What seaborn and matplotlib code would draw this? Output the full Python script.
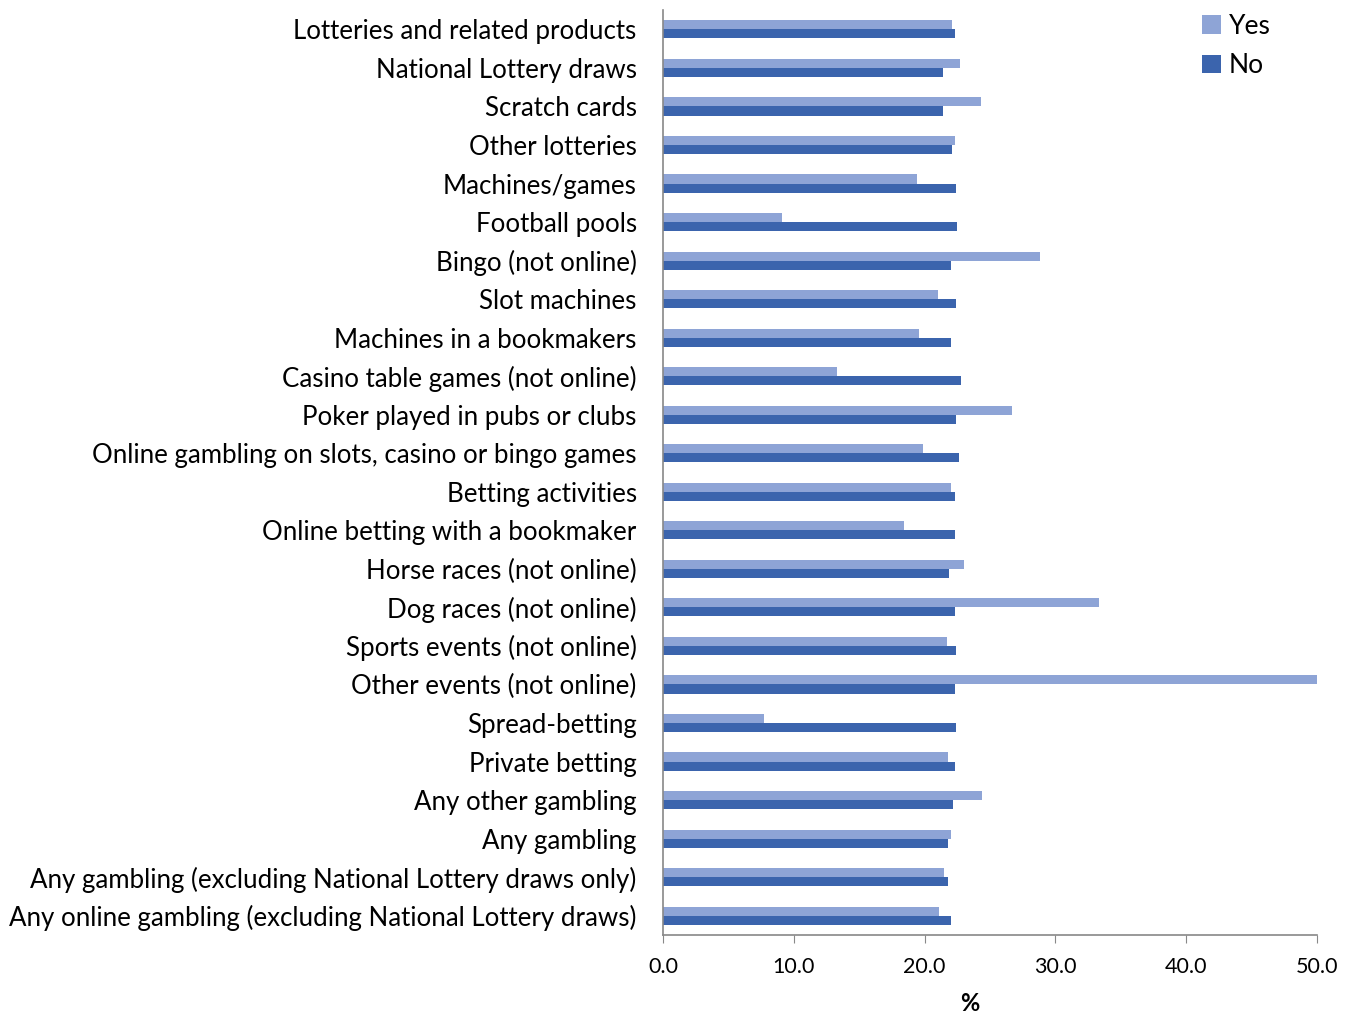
import matplotlib
matplotlib.use("Agg")
import matplotlib.pyplot as plt
import seaborn as sns
import pandas as pd

categories = [
    "Lotteries and related products",
    "National Lottery draws",
    "Scratch cards",
    "Other lotteries",
    "Machines/games",
    "Football pools",
    "Bingo (not online)",
    "Slot machines",
    "Machines in a bookmakers",
    "Casino table games (not online)",
    "Poker played in pubs or clubs",
    "Online gambling on slots, casino or bingo games",
    "Betting activities",
    "Online betting with a bookmaker",
    "Horse races (not online)",
    "Dog races (not online)",
    "Sports events (not online)",
    "Other events (not online)",
    "Spread-betting",
    "Private betting",
    "Any other gambling",
    "Any gambling",
    "Any gambling (excluding National Lottery draws only)",
    "Any online gambling (excluding National Lottery draws)",
]
yes_values = [22.1, 22.7, 24.3, 22.3, 19.4, 9.1, 28.8, 21.0, 19.6, 13.3, 26.7, 19.9,
              22.0, 18.4, 23.0, 33.3, 21.7, 50.0, 7.7, 21.8, 24.4, 22.0, 21.5, 21.1]
no_values = [22.3, 21.4, 21.4, 22.1, 22.4, 22.5, 22.0, 22.4, 22.0, 22.8, 22.4, 22.6,
             22.3, 22.3, 21.9, 22.3, 22.4, 22.3, 22.4, 22.3, 22.2, 21.8, 21.8, 22.0]
series = ["Yes", "No"]
colors = ["#8EA4D6", "#3B64AD"]

df = pd.DataFrame({
    "category": categories * 2,
    "value": yes_values + no_values,
    "series": [series[0]] * len(categories) + [series[1]] * len(categories),
})

plt.rcParams["font.family"] = ["Lato", "DejaVu Sans"]
fig = plt.figure(figsize=(13.54, 10.14), dpi=100)
ax = fig.add_axes([0.4897, 0.078, 0.4830, 0.912])

sns.barplot(data=df, y="category", x="value", hue="series", order=categories,
            hue_order=series, palette=colors, orient="h", width=0.47,
            saturation=1, ax=ax, errorbar=None)

ax.set_xlim(0, 50)
ax.set_xticks([0, 10, 20, 30, 40, 50])
ax.set_xticklabels([f"{v:.1f}" for v in [0, 10, 20, 30, 40, 50]], fontsize=15.5)
ax.set_ylim(len(categories) - 0.5, -0.5)
ax.tick_params(axis="y", length=0, labelsize=18.6, pad=19)
ax.tick_params(axis="x", length=6, color="#888888", pad=10)
ax.set_ylabel("")
ax.set_xlabel("%", fontsize=17, fontweight="bold")
ax.xaxis.set_label_coords(0.469, -0.062)
for s in ["top", "right"]:
    ax.spines[s].set_visible(False)
for s in ["left", "bottom"]:
    ax.spines[s].set_color("#888888")
    ax.spines[s].set_linewidth(1.2)

leg = ax.legend(loc="upper right", bbox_to_anchor=(0.965, 1.022), frameon=False,
                fontsize=19, handlelength=0.7, handleheight=0.7, handletextpad=0.3,
                labelspacing=0.55)

fig.savefig("out.png", dpi=100)
